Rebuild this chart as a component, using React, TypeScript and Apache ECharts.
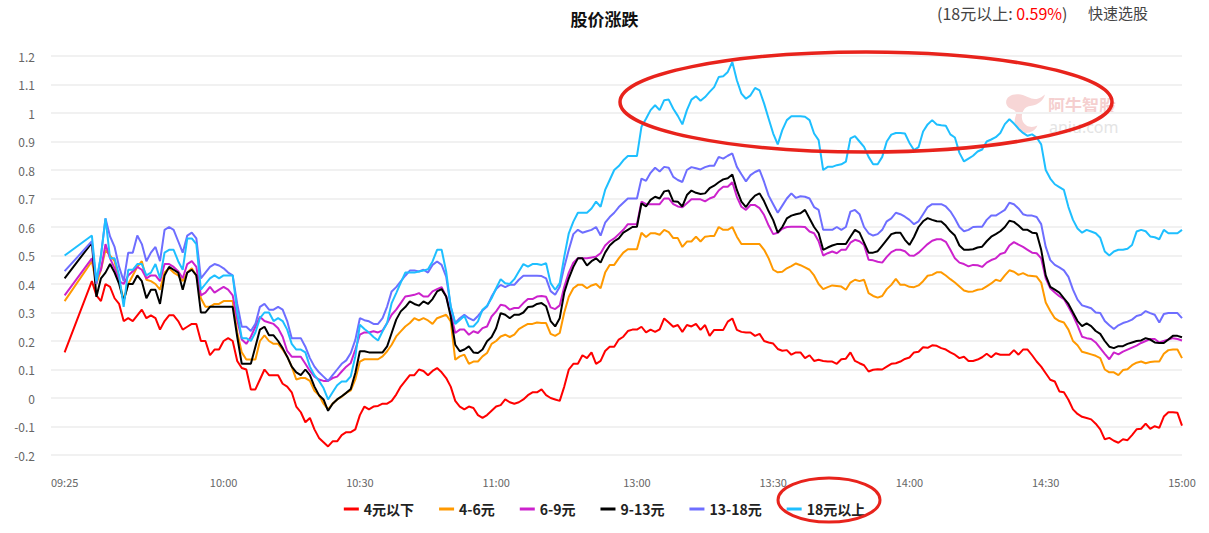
import React, { useEffect, useRef } from "react";
import * as echarts from "echarts";

// ---- categories / tick labels ----
const xTickLabels = ["09:25", "10:00", "10:30", "11:00", "13:00", "13:30", "14:00", "14:30", "15:00"];
const seriesNames = ["4元以下", "4-6元", "6-9元", "9-13元", "13-18元", "18元以上"];
const seriesColors = ["#ff0000", "#ff9900", "#cc22cc", "#000000", "#6e6eff", "#1ebfff"];
const padSlots = ["\u2002", "\u2003", "\u2009"]; // empty leading slots before 09:25

function buildTimes(): string[] {
  const out: string[] = [];
  const fmt = (m: number) => String(Math.floor(m / 60)).padStart(2, "0") + ":" + String(m % 60).padStart(2, "0");
  for (let m = 9 * 60 + 25; m <= 11 * 60 + 30; m++) out.push(fmt(m));
  for (let m = 13 * 60; m <= 15 * 60; m++) out.push(fmt(m));
  return out;
}

// ---- series values (% change), one per minute, 09:25 .. 15:00 ----
const under4 = [
  0.16, null, null, null, null, null, 0.41, 0.36, 0.34, 0.40,
  0.39, 0.35, 0.33, 0.27, 0.28, 0.27, 0.29, 0.31, 0.28, 0.29,
  0.28, 0.24, 0.27, 0.29, 0.29, 0.27, 0.24, 0.25, 0.26, 0.26,
  0.20, 0.20, 0.15, 0.17, 0.17, 0.20, 0.21, 0.20, 0.13, 0.105,
  0.10, 0.03, 0.03, 0.065, 0.10, 0.08, 0.08, 0.08, 0.05, 0.04,
  0.02, -0.03, -0.05, -0.085, -0.07, -0.11, -0.14, -0.155, -0.17, -0.152,
  -0.152, -0.13, -0.12, -0.12, -0.11, -0.06, -0.03, -0.04, -0.03, -0.028,
  -0.02, -0.02, -0.01, 0.012, 0.04, 0.06, 0.08, 0.08, 0.10, 0.095,
  0.08, 0.095, 0.105, 0.09, 0.07, 0.04, -0.01, -0.03, -0.04, -0.03,
  -0.035, -0.06, -0.07, -0.06, -0.045, -0.03, -0.025, -0.005, -0.015, -0.02,
  -0.015, -0.005, 0.01, 0.02, 0.02, 0.03, 0.01, 0.0, -0.005, -0.01,
  0.04, 0.10, 0.12, 0.12, 0.15, 0.14, 0.16, 0.12, 0.13, 0.165,
  0.18, 0.18, 0.205, 0.215, 0.235, 0.24, 0.24, 0.25, 0.23, 0.24,
  0.232, 0.241, 0.279, 0.265, 0.25, 0.256, 0.232, 0.256, 0.251, 0.26,
  0.239, 0.256, 0.218, 0.239, 0.239, 0.239, 0.268, 0.279, 0.239, 0.232,
  0.23, 0.23, 0.218, 0.225, 0.2, 0.195, 0.191, 0.172, 0.166, 0.168,
  0.152, 0.16, 0.16, 0.14, 0.15, 0.13, 0.134, 0.13, 0.128, 0.128,
  0.12, 0.136, 0.138, 0.16, 0.13, 0.122, 0.115, 0.093, 0.099, 0.101,
  0.10, 0.11, 0.12, 0.122, 0.128, 0.137, 0.142, 0.16, 0.162, 0.178,
  0.176, 0.185, 0.183, 0.175, 0.17, 0.16, 0.152, 0.14, 0.145, 0.13,
  0.13, 0.135, 0.143, 0.155, 0.143, 0.157, 0.152, 0.152, 0.152, 0.168,
  0.152, 0.17, 0.17, 0.15, 0.128, 0.11, 0.087, 0.064, 0.058, 0.023,
  0.02, -0.006, -0.04, -0.056, -0.066, -0.07, -0.075, -0.09, -0.11, -0.145,
  -0.14, -0.15, -0.157, -0.145, -0.148, -0.13, -0.11, -0.108, -0.09, -0.108,
  -0.099, -0.105, -0.065, -0.05, -0.05, -0.052, -0.097,
];

const from4to6 = [
  0.34, null, null, null, null, null, 0.48, 0.40, 0.45, 0.52,
  0.50, 0.48, 0.41, 0.345, 0.40, 0.43, 0.46, 0.48, 0.415, 0.41,
  0.40, 0.38, 0.44, 0.455, 0.44, 0.43, 0.41, 0.44, 0.455, 0.43,
  0.35, 0.32, 0.32, 0.33, 0.33, 0.34, 0.34, 0.34, 0.23, 0.16,
  0.135, 0.135, 0.135, 0.20, 0.22, 0.20, 0.19, 0.19, 0.17, 0.145,
  0.11, 0.065, 0.07, 0.07, 0.06, 0.025, 0.01, -0.02, -0.04, -0.02,
  -0.005, 0.004, 0.018, 0.027, 0.065, 0.128, 0.136, 0.136, 0.136, 0.136,
  0.146, 0.164, 0.187, 0.216, 0.234, 0.251, 0.263, 0.28, 0.272, 0.28,
  0.272, 0.26, 0.28, 0.286, 0.292, 0.269, 0.134, 0.146, 0.152, 0.12,
  0.128, 0.128, 0.146, 0.158, 0.19, 0.20, 0.216, 0.222, 0.214, 0.222,
  0.242, 0.251, 0.26, 0.26, 0.265, 0.263, 0.263, 0.225, 0.218, 0.228,
  0.30, 0.355, 0.385, 0.397, 0.397, 0.385, 0.395, 0.40, 0.385, 0.44,
  0.467, 0.467, 0.49, 0.51, 0.522, 0.522, 0.522, 0.58, 0.565, 0.578,
  0.578, 0.573, 0.59, 0.582, 0.561, 0.561, 0.53, 0.549, 0.549, 0.566,
  0.549, 0.566, 0.568, 0.568, 0.60, 0.59, 0.59, 0.60, 0.566, 0.54,
  0.54, 0.54, 0.54, 0.54, 0.52, 0.49, 0.45, 0.441, 0.443, 0.455,
  0.463, 0.472, 0.466, 0.458, 0.45, 0.43, 0.40, 0.382, 0.389, 0.395,
  0.393, 0.391, 0.38, 0.405, 0.415, 0.41, 0.415, 0.368, 0.358, 0.352,
  0.358, 0.382, 0.397, 0.418, 0.397, 0.397, 0.39, 0.389, 0.395, 0.41,
  0.429, 0.432, 0.441, 0.441, 0.43, 0.417, 0.405, 0.391, 0.377, 0.373,
  0.374, 0.38, 0.382, 0.392, 0.402, 0.415, 0.41, 0.43, 0.448, 0.443,
  0.432, 0.438, 0.43, 0.428, 0.426, 0.405, 0.335, 0.305, 0.28, 0.27,
  0.265, 0.24, 0.20, 0.185, 0.162, 0.158, 0.153, 0.148, 0.14, 0.10,
  0.09, 0.09, 0.08, 0.098, 0.101, 0.115, 0.124, 0.128, 0.122, 0.126,
  0.128, 0.128, 0.155, 0.168, 0.17, 0.17, 0.14,
];

const from6to9 = [
  0.36, null, null, null, null, null, 0.49, 0.42, 0.45, 0.54,
  0.49, 0.455, 0.41, 0.40, 0.43, 0.445, 0.46, 0.45, 0.42, 0.43,
  0.43, 0.41, 0.47, 0.47, 0.46, 0.445, 0.42, 0.47, 0.48, 0.46,
  0.36, 0.37, 0.39, 0.37, 0.38, 0.39, 0.38, 0.36, 0.275, 0.205,
  0.19, 0.215, 0.25, 0.285, 0.27, 0.265, 0.26, 0.245, 0.215, 0.165,
  0.145, 0.145, 0.145, 0.12, 0.095, 0.075, 0.065, 0.06, 0.06, 0.07,
  0.075, 0.093, 0.11, 0.123, 0.17, 0.222, 0.23, 0.23, 0.234, 0.23,
  0.237, 0.263, 0.292, 0.31, 0.333, 0.356, 0.359, 0.362, 0.368, 0.356,
  0.356, 0.374, 0.382, 0.389, 0.356, 0.298, 0.228, 0.24, 0.24, 0.222,
  0.234, 0.228, 0.245, 0.251, 0.286, 0.304, 0.327, 0.324, 0.31, 0.316,
  0.316, 0.333, 0.347, 0.347, 0.356, 0.358, 0.355, 0.318, 0.312, 0.325,
  0.39, 0.44, 0.475, 0.49, 0.49, 0.49, 0.493, 0.496, 0.508, 0.535,
  0.55, 0.56, 0.575, 0.59, 0.61, 0.61, 0.61, 0.689, 0.68, 0.68,
  0.68, 0.68, 0.70, 0.70, 0.68, 0.672, 0.669, 0.683, 0.697, 0.697,
  0.697, 0.69, 0.70, 0.706, 0.728, 0.741, 0.741, 0.757, 0.706, 0.671,
  0.66, 0.677, 0.677, 0.666, 0.642, 0.605, 0.575, 0.58, 0.594, 0.60,
  0.601, 0.601, 0.601, 0.60, 0.584, 0.578, 0.55, 0.50, 0.508, 0.514,
  0.508, 0.52, 0.52, 0.545, 0.555, 0.55, 0.537, 0.485, 0.483, 0.478,
  0.475, 0.495, 0.512, 0.52, 0.52, 0.515, 0.50, 0.499, 0.51, 0.525,
  0.54, 0.552, 0.557, 0.557, 0.548, 0.52, 0.49, 0.475, 0.47, 0.462,
  0.467, 0.466, 0.46, 0.475, 0.484, 0.49, 0.505, 0.51, 0.535, 0.547,
  0.538, 0.53, 0.52, 0.51, 0.508, 0.49, 0.42, 0.385, 0.37, 0.357,
  0.347, 0.32, 0.29, 0.255, 0.215, 0.21, 0.207, 0.195, 0.175, 0.155,
  0.136, 0.16, 0.153, 0.163, 0.17, 0.177, 0.184, 0.193, 0.20, 0.207,
  0.207, 0.195, 0.20, 0.205, 0.21, 0.207, 0.202,
];

const from9to13 = [
  0.42, null, null, null, null, null, 0.545, 0.355, 0.42, 0.44,
  0.47, 0.44, 0.40, 0.34, 0.40, 0.40, 0.43, 0.41, 0.35, 0.38,
  0.38, 0.33, 0.43, 0.46, 0.45, 0.44, 0.38, 0.44, 0.45, 0.43,
  0.30, 0.30, 0.32, 0.32, 0.32, 0.32, 0.32, 0.32, 0.215, 0.12,
  0.12, 0.12, 0.18, 0.24, 0.25, 0.22, 0.22, 0.20, 0.175, 0.145,
  0.11, 0.09, 0.08, 0.10, 0.08, 0.04, 0.01, -0.005, -0.045, -0.02,
  -0.005, 0.006, 0.018, 0.032, 0.088, 0.164, 0.164, 0.16, 0.16, 0.16,
  0.16, 0.181, 0.228, 0.275, 0.304, 0.319, 0.339, 0.33, 0.324, 0.339,
  0.33, 0.347, 0.374, 0.382, 0.356, 0.286, 0.187, 0.164, 0.17, 0.181,
  0.16, 0.158, 0.17, 0.199, 0.214, 0.245, 0.298, 0.292, 0.28, 0.292,
  0.292, 0.30, 0.319, 0.321, 0.33, 0.333, 0.322, 0.27, 0.251, 0.28,
  0.37, 0.42, 0.46, 0.49, 0.49, 0.465, 0.48, 0.49, 0.475, 0.51,
  0.535, 0.55, 0.56, 0.58, 0.59, 0.60, 0.601, 0.683, 0.672, 0.695,
  0.706, 0.70, 0.725, 0.728, 0.69, 0.689, 0.672, 0.712, 0.728, 0.72,
  0.716, 0.718, 0.736, 0.745, 0.757, 0.767, 0.771, 0.784, 0.73, 0.689,
  0.67, 0.693, 0.71, 0.718, 0.69, 0.655, 0.624, 0.58, 0.60, 0.63,
  0.64, 0.645, 0.648, 0.66, 0.63, 0.60, 0.578, 0.52, 0.528, 0.535,
  0.54, 0.54, 0.54, 0.566, 0.59, 0.58, 0.545, 0.51, 0.51, 0.515,
  0.535, 0.555, 0.575, 0.58, 0.58, 0.555, 0.537, 0.565, 0.60, 0.62,
  0.631, 0.625, 0.62, 0.619, 0.605, 0.585, 0.57, 0.535, 0.52, 0.52,
  0.522, 0.528, 0.531, 0.55, 0.566, 0.575, 0.585, 0.60, 0.622, 0.618,
  0.605, 0.59, 0.59, 0.58, 0.578, 0.52, 0.43, 0.39, 0.38, 0.37,
  0.35, 0.33, 0.30, 0.27, 0.252, 0.262, 0.252, 0.235, 0.225, 0.20,
  0.18, 0.175, 0.182, 0.182, 0.19, 0.195, 0.20, 0.202, 0.21, 0.205,
  0.195, 0.193, 0.193, 0.205, 0.218, 0.218, 0.213,
];

const from13to18 = [
  0.445, null, null, null, null, null, 0.55, 0.40, 0.50, 0.63,
  0.567, 0.53, 0.46, 0.41, 0.51, 0.51, 0.57, 0.54, 0.48, 0.51,
  0.53, 0.48, 0.59, 0.60, 0.59, 0.55, 0.51, 0.57, 0.58, 0.56,
  0.42, 0.44, 0.46, 0.47, 0.465, 0.455, 0.44, 0.43, 0.33, 0.25,
  0.25, 0.235, 0.26, 0.32, 0.33, 0.31, 0.31, 0.32, 0.31, 0.27,
  0.21, 0.21, 0.21, 0.18, 0.14, 0.11, 0.09, 0.075, 0.06, 0.08,
  0.10, 0.12, 0.132, 0.158, 0.204, 0.28, 0.273, 0.269, 0.26, 0.26,
  0.28, 0.321, 0.374, 0.389, 0.409, 0.429, 0.447, 0.447, 0.444, 0.45,
  0.44, 0.467, 0.479, 0.467, 0.426, 0.321, 0.263, 0.28, 0.292, 0.28,
  0.272, 0.288, 0.307, 0.321, 0.356, 0.382, 0.397, 0.389, 0.397, 0.397,
  0.415, 0.429, 0.429, 0.429, 0.429, 0.428, 0.42, 0.375, 0.362, 0.39,
  0.46, 0.52, 0.575, 0.59, 0.58, 0.585, 0.59, 0.60, 0.57, 0.615,
  0.635, 0.65, 0.67, 0.685, 0.70, 0.70, 0.70, 0.77, 0.762, 0.79,
  0.808, 0.795, 0.811, 0.808, 0.776, 0.765, 0.758, 0.80, 0.81, 0.806,
  0.802, 0.81, 0.815, 0.815, 0.846, 0.84, 0.85, 0.858, 0.811, 0.785,
  0.76, 0.782, 0.793, 0.80, 0.758, 0.71, 0.68, 0.65, 0.675, 0.70,
  0.718, 0.702, 0.708, 0.706, 0.70, 0.67, 0.66, 0.59, 0.59, 0.59,
  0.60, 0.59, 0.60, 0.654, 0.66, 0.645, 0.60, 0.578, 0.57, 0.575,
  0.59, 0.62, 0.63, 0.65, 0.645, 0.636, 0.625, 0.61, 0.62, 0.645,
  0.67, 0.68, 0.68, 0.68, 0.672, 0.655, 0.63, 0.60, 0.585, 0.59,
  0.60, 0.601, 0.601, 0.625, 0.64, 0.64, 0.65, 0.66, 0.685, 0.68,
  0.665, 0.645, 0.64, 0.64, 0.635, 0.61, 0.53, 0.484, 0.467, 0.458,
  0.448, 0.425, 0.38, 0.345, 0.325, 0.32, 0.315, 0.30, 0.298, 0.27,
  0.255, 0.242, 0.255, 0.263, 0.268, 0.275, 0.288, 0.292, 0.305, 0.298,
  0.292, 0.265, 0.295, 0.298, 0.298, 0.298, 0.28,
];

const over18 = [
  0.50, null, null, null, null, null, 0.57, 0.41, 0.50, 0.63,
  0.49, 0.49, 0.43, 0.32, 0.45, 0.45, 0.47, 0.47, 0.43, 0.44,
  0.47, 0.42, 0.51, 0.52, 0.52, 0.48, 0.45, 0.56, 0.56, 0.54,
  0.38, 0.40, 0.42, 0.43, 0.42, 0.43, 0.43, 0.43, 0.30, 0.21,
  0.21, 0.20, 0.23, 0.28, 0.30, 0.30, 0.27, 0.28, 0.27, 0.24,
  0.19, 0.17, 0.17, 0.16, 0.11, 0.08, 0.06, 0.035, -0.005, 0.02,
  0.045, 0.058, 0.058, 0.076, 0.146, 0.257, 0.242, 0.23, 0.214, 0.202,
  0.234, 0.263, 0.333, 0.368, 0.405, 0.44, 0.44, 0.44, 0.444, 0.447,
  0.452, 0.479, 0.52, 0.52, 0.444, 0.321, 0.26, 0.274, 0.288, 0.251,
  0.251, 0.269, 0.31, 0.324, 0.35, 0.385, 0.417, 0.403, 0.40, 0.417,
  0.444, 0.47, 0.461, 0.47, 0.47, 0.467, 0.473, 0.403, 0.38, 0.403,
  0.496, 0.578, 0.619, 0.65, 0.65, 0.65, 0.665, 0.689, 0.671, 0.73,
  0.765, 0.80, 0.814, 0.834, 0.849, 0.849, 0.849, 0.952, 0.98, 1.01,
  1.027, 1.01, 1.045, 1.047, 1.015, 0.99, 0.96, 1.01, 1.047, 1.059,
  1.043, 1.056, 1.074, 1.091, 1.126, 1.129, 1.144, 1.179, 1.115, 1.068,
  1.05, 1.062, 1.088, 1.079, 1.033, 0.98, 0.928, 0.89, 0.94, 0.975,
  0.989, 0.989, 0.989, 0.987, 0.975, 0.928, 0.905, 0.80, 0.811, 0.811,
  0.817, 0.82, 0.829, 0.911, 0.919, 0.90, 0.881, 0.846, 0.82, 0.82,
  0.846, 0.90, 0.924, 0.93, 0.93, 0.928, 0.895, 0.87, 0.88, 0.935,
  0.96, 0.975, 0.96, 0.957, 0.955, 0.925, 0.914, 0.86, 0.83, 0.84,
  0.85, 0.865, 0.872, 0.90, 0.907, 0.915, 0.93, 0.961, 0.978, 0.963,
  0.945, 0.93, 0.92, 0.925, 0.914, 0.89, 0.80, 0.77, 0.75, 0.74,
  0.73, 0.67, 0.625, 0.595, 0.58, 0.59, 0.584, 0.578, 0.562, 0.514,
  0.50, 0.514, 0.52, 0.52, 0.524, 0.537, 0.584, 0.59, 0.585, 0.567,
  0.564, 0.557, 0.59, 0.578, 0.578, 0.578, 0.59,
];

const seriesValues = [under4, from4to6, from6to9, from9to13, from13to18, over18];

const headerLabel = "(18元以上: ";
const headerValue = "0.59%";
const quickPick = "快速选股";
const titleText = "股价涨跌";

const LOGO_D =
  "M8,28 C4,12 22,2 42,6 C58,9 66,18 80,16 C88,15 95,10 100,6 C96,20 84,30 68,32 C58,33 52,36 48,44 C42,56 44,70 56,78 C64,83 74,82 82,78 C76,92 60,98 46,94 C30,89 24,72 30,56 C33,48 30,42 22,40 C14,38 10,34 8,28 Z";
let logoRegistered = false;
function ensureLogo() {
  if (logoRegistered) return;
  echarts.graphic.registerShape("aniuLogo", echarts.graphic.extendPath(LOGO_D, {}) as any);
  logoRegistered = true;
}

const FONT = "'Noto Sans CJK SC', 'Noto Sans', sans-serif";

export default function App() {
  const ref = useRef<HTMLDivElement>(null);
  useEffect(() => {
    if (!ref.current) return;
    ensureLogo();
    const chart = echarts.init(ref.current, undefined, { renderer: "svg" });
    const times = buildTimes();
    const categories = [...padSlots, ...times];
    const pad = padSlots.map(() => null);
    const option: any = {
      animation: false,
      textStyle: { fontFamily: FONT },
      title: {
        text: titleText,
        left: "center",
        top: 5,
        textStyle: { fontSize: 17, fontWeight: "bold", color: "#111", fontFamily: FONT },
      },
      grid: { left: 51, right: 27, top: 56, bottom: 78, containLabel: false },
      legend: {
        top: 497,
        left: "center",
        icon: "rect",
        itemWidth: 15,
        itemHeight: 3,
        itemGap: 25,
        selectedMode: false,
        textStyle: { fontSize: 14, fontWeight: "bold", color: "#222", fontFamily: FONT },
        data: seriesNames,
      },
      xAxis: {
        type: "category",
        boundaryGap: false,
        data: categories,
        axisLine: { show: false },
        axisTick: { show: false },
        splitLine: { show: false },
        axisLabel: {
          interval: (_i: number, v: string) => xTickLabels.includes(v),
          color: "#666",
          fontSize: 11,
          margin: 21,
          fontFamily: FONT,
        },
      },
      yAxis: {
        type: "value",
        min: -0.2,
        max: 1.2,
        interval: 0.1,
        axisLine: { show: false },
        axisTick: { show: false },
        axisLabel: {
          color: "#666",
          fontSize: 12,
          margin: 16,
          fontFamily: FONT,
          formatter: (v: number) => String(Math.round(v * 10) / 10),
        },
        splitLine: { lineStyle: { color: "#f1f1f1", width: 2 } },
      },
      series: seriesNames.map((name, k) => ({
        name,
        type: "line",
        data: [...pad, ...seriesValues[k]],
        showSymbol: false,
        connectNulls: true,
        color: seriesColors[k],
        lineStyle: { width: 2, color: seriesColors[k] },
        emphasis: { disabled: true },
      })),
      graphic: [
        {
          type: "group",
          z: -10,
          children: [
            {
              type: "aniuLogo",
              x: 1003,
              y: 92,
              scaleX: 0.42,
              scaleY: 0.43,
              style: { fill: "#f7d6d6" },
              silent: true,
            },
            {
              type: "text",
              x: 1048,
              y: 96,
              style: {
                text: "阿牛智股",
                fill: "#f5cfcf",
                fontSize: 17,
                fontWeight: "bold",
                fontFamily: "'Noto Sans CJK SC', sans-serif",
                lineHeight: 17,
                verticalAlign: "top",
              },
              silent: true,
            },
            {
              type: "text",
              x: 1049,
              y: 120,
              style: {
                text: "aniu.com",
                fill: "#e4e4e4",
                fontSize: 16,
                fontFamily: "'Noto Sans', sans-serif",
                lineHeight: 14,
                verticalAlign: "top",
              },
              silent: true,
            },
          ],
        },
        {
          type: "text",
          x: 937,
          y: 5,
          z: 50,
          style: {
            text: "{a|" + headerLabel + "}{b|" + headerValue + "}{a|)}",
            rich: {
              a: { fill: "#444", fontSize: 16, fontFamily: FONT },
              b: { fill: "#ff0000", fontSize: 16, fontFamily: FONT },
            },
          },
        },
        {
          type: "text",
          x: 1088,
          y: 5,
          z: 50,
          style: { text: quickPick, fill: "#444", fontSize: 15, fontFamily: FONT },
        },
        {
          type: "ellipse",
          z: 100,
          shape: { cx: 866, cy: 102, rx: 246, ry: 50 },
          style: { fill: "none", stroke: "#e8231c", lineWidth: 3.5 },
          silent: true,
        },
        {
          type: "ellipse",
          z: 100,
          shape: { cx: 829, cy: 500, rx: 51, ry: 22 },
          style: { fill: "none", stroke: "#e8231c", lineWidth: 3 },
          silent: true,
        },
      ],
    };
    chart.setOption(option);
    return () => chart.dispose();
  }, []);
  return (
    <div
      ref={ref}
      style={{ position: "absolute", left: 0, top: 0, width: 1209, height: 533, background: "#fff" }}
    />
  );
}
